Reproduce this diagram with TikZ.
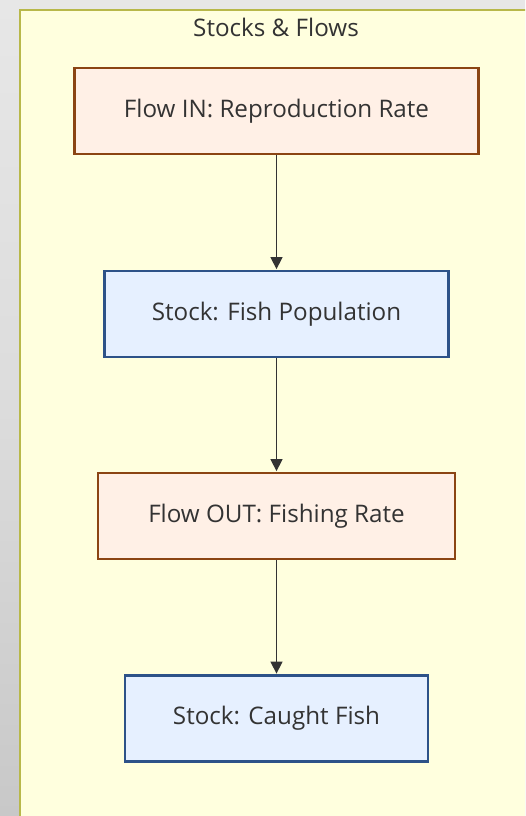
\documentclass[tikz,border=0pt]{standalone}
\usepackage{fontspec}
\setmainfont{Open Sans}
\usetikzlibrary{arrows.meta}

\definecolor{pagetop}{HTML}{F2F2F2}
\definecolor{pagemid}{HTML}{DCDCDC}
\definecolor{pagebot}{HTML}{B4B4B4}
\definecolor{clusterfill}{HTML}{FFFFDE}
\definecolor{clusterline}{HTML}{B8B84A}
\definecolor{flowfill}{HTML}{FFF0E6}
\definecolor{flowline}{HTML}{8B4513}
\definecolor{stockfill}{HTML}{E6F0FF}
\definecolor{stockline}{HTML}{2D5288}
\definecolor{ink}{HTML}{333333}

\pgfdeclareverticalshading{pageshade}{100bp}{
  color(0bp)=(pagebot); color(50bp)=(pagemid); color(100bp)=(pagetop)}

\tikzset{
  label font/.style={font=\fontsize{24.2}{29}\selectfont},
  box/.style={rectangle, line width=2.8pt, minimum height=86pt,
    inner sep=0pt, text=ink, label font},
  flowbox/.style={box, draw=flowline, fill=flowfill},
  stockbox/.style={box, draw=stockline, fill=stockfill},
  link/.style={draw=ink, line width=1.4pt,
    -{Triangle[length=12pt, width=12pt]}, shorten >=0.5pt},
}

\begin{document}
\begin{tikzpicture}[x=1pt, y=-1pt]
  \useasboundingbox (0,0) rectangle (525,816);
  \begin{scope}
    \clip (0,0) rectangle (525,816);
    % window background
    \shade[shading=pageshade] (0,0) rectangle (525,816);
    % subgraph frame
    \draw[clusterline, fill=clusterfill, line width=2pt]
      (20.3,10) rectangle (540,830);
  \end{scope}

  \node[text=ink, label font] (title) at (276,27) {Stocks \& Flows};

  \node[flowbox,  minimum width=404pt] (inflow)  at (276.5,111)   {Flow IN: Reproduction Rate};
  \node[stockbox, minimum width=344pt] (fish)    at (276.5,314)   {Stock: Fish Population};
  \node[flowbox,  minimum width=357pt] (outflow) at (276.5,516)   {Flow OUT: Fishing Rate};
  \node[stockbox, minimum width=303pt] (caught)  at (276.5,718.5) {Stock: Caught Fish};

  \draw[link] (inflow) -- (fish);
  \draw[link] (fish) -- (outflow);
  \draw[link] (outflow) -- (caught);
\end{tikzpicture}
\end{document}
